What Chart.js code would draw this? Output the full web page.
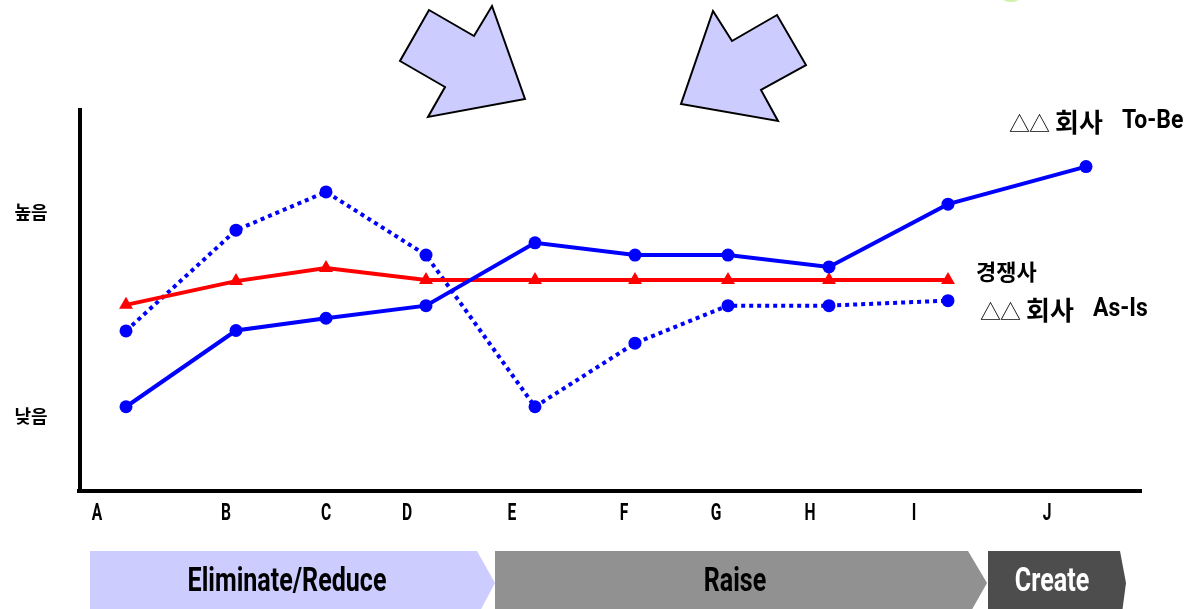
<!DOCTYPE html>
<html lang="ko">
<head>
<meta charset="UTF-8">
<title>ERRC</title>
<script src="https://cdn.jsdelivr.net/npm/chart.js"></script>
<style>
  html, body { margin: 0; padding: 0; background: #fff; }
  #wrap { width: 1187px; height: 609px; }
</style>
</head>
<body>
<div id="wrap"><canvas id="errcChart" width="1187" height="609"></canvas></div>
<script>
// categories and where their labels sit on the x scale
const categories = ['A', 'B', 'C', 'D', 'E', 'F', 'G', 'H', 'I', 'J'];
const labelPos = [0.17, 1.46, 2.46, 3.27, 4.32, 5.44, 6.36, 7.30, 8.34, 9.67];
// x position of each point on the same scale
const pointPos = [0.46, 1.56, 2.46, 3.46, 4.55, 5.55, 6.48, 7.49, 8.68, 10.06];
// series values (0 - 10)
const toBe = [2.20, 4.19, 4.51, 4.84, 6.48, 6.16, 6.16, 5.85, 7.49, 8.47];
const asIs = [4.18, 6.81, 7.81, 6.16, 2.20, 3.86, 4.84, 4.84, 4.97];
const rival = [4.86, 5.48, 5.82, 5.51, 5.51, 5.51, 5.51, 5.51, 5.51];
// y tick labels
const yTickLabels = ['높음', '낮음'];
const yTickValues = [7.28, 1.96];

function toPoints(vals) {
  return vals.map((v, i) => ({ x: pointPos[i], y: v }));
}

function narrowText(ctx, text, x, y, size, sx, color, align) {
  ctx.save();
  ctx.font = 'bold ' + size + 'px Roboto, "Liberation Sans", sans-serif';
  ctx.fillStyle = color;
  ctx.textBaseline = 'middle';
  ctx.textAlign = align || 'center';
  ctx.translate(x, y);
  ctx.scale(sx, 1);
  ctx.fillText(text, 0, 0);
  ctx.restore();
}

function poly(ctx, pts, fill, stroke) {
  ctx.beginPath();
  ctx.moveTo(pts[0][0], pts[0][1]);
  for (let i = 1; i < pts.length; i++) ctx.lineTo(pts[i][0], pts[i][1]);
  ctx.closePath();
  ctx.fillStyle = fill;
  ctx.fill();
  if (stroke) {
    ctx.lineWidth = 2;
    ctx.strokeStyle = stroke;
    ctx.lineJoin = 'miter';
    ctx.stroke();
  }
}

function companyLabel(ctx, x, y, tail, tailX) {
  ctx.save();
  ctx.textBaseline = 'middle';
  ctx.textAlign = 'left';
  ctx.fillStyle = '#000';
  ctx.font = '21px "Noto Sans CJK KR"';
  ctx.fillText('△', x, y + 1);
  ctx.fillText('△', x + 20, y + 1);
  ctx.font = 'bold 26px "Noto Sans CJK KR"';
  ctx.fillText('회사', x + 46, y);
  ctx.restore();
  narrowText(ctx, tail, tailX, y, 25, 0.92, '#000', 'left');
}

const decorations = {
  id: 'decorations',
  beforeDraw(chart) {
    const ctx = chart.ctx;
    ctx.save();
    // green blob at the top edge
    ctx.beginPath();
    ctx.ellipse(1011, -8, 13, 10, 0, 0, Math.PI * 2);
    ctx.fillStyle = '#ccf2a6';
    ctx.fill();
    // arrows
    poly(ctx, [[429, 10], [474, 36], [492, 6], [525, 99], [428, 117], [445, 87], [400, 61]], '#ccccff', '#000');
    poly(ctx, [[713, 11], [732, 41], [777, 15], [806, 65], [761, 90], [778, 121], [681, 104]], '#ccccff', '#000');
    // bottom bands
    poly(ctx, [[90, 551], [477, 551], [495, 583], [479, 613], [90, 613]], '#ccccff');
    poly(ctx, [[495, 551], [968, 551], [987, 583], [970, 613], [495, 613]], '#919191');
    poly(ctx, [[988, 551], [1120, 551], [1126, 583], [1122, 613], [988, 613]], '#4d4d4d');
    ctx.restore();
    narrowText(ctx, 'Eliminate/Reduce', 287, 583, 33, 0.76, '#000');
    narrowText(ctx, 'Raise', 735, 583, 33, 0.76, '#000');
    narrowText(ctx, 'Create', 1052, 583, 33, 0.76, '#fff');
  },
  beforeDatasetsDraw(chart) {
    const ctx = chart.ctx;
    const a = chart.chartArea;
    const xs = chart.scales.x, ys = chart.scales.y;
    ctx.save();
    ctx.strokeStyle = '#000';
    ctx.lineWidth = 4;
    ctx.beginPath();
    ctx.moveTo(a.left, a.top);
    ctx.lineTo(a.left, a.bottom + 2);
    ctx.moveTo(a.left - 3, a.bottom);
    ctx.lineTo(a.right, a.bottom);
    ctx.stroke();
    ctx.restore();
    categories.forEach((c, i) => {
      narrowText(ctx, c, xs.getPixelForValue(labelPos[i]), a.bottom + 23, 23, 0.68, '#000');
    });
    ctx.save();
    ctx.font = 'bold 18px "Noto Sans CJK KR"';
    ctx.fillStyle = '#000';
    ctx.textAlign = 'center';
    ctx.textBaseline = 'middle';
    yTickLabels.forEach((t, i) => {
      ctx.fillText(t, 31, ys.getPixelForValue(yTickValues[i]));
    });
    ctx.restore();
  },
  afterDraw(chart) {
    const ctx = chart.ctx;
    companyLabel(ctx, 1009, 122, 'To-Be', 1122);
    ctx.save();
    ctx.font = 'bold 22px "Noto Sans CJK KR"';
    ctx.fillStyle = '#000';
    ctx.textBaseline = 'middle';
    ctx.fillText('경쟁사', 976, 272);
    ctx.restore();
    companyLabel(ctx, 980, 310, 'As-Is', 1093);
  }
};

const ctx = document.getElementById('errcChart').getContext('2d');
const errcChart = new Chart(ctx, {
  type: 'line',
  data: {
    datasets: [
      {
        label: '△△회사 To-Be',
        data: toPoints(toBe),
        borderColor: '#0000ff',
        backgroundColor: '#0000ff',
        borderWidth: 4,
        pointRadius: 6.5,
        pointBorderWidth: 0,
        order: 0
      },
      {
        label: '경쟁사',
        data: toPoints(rival),
        borderColor: '#ff0000',
        backgroundColor: '#ff0000',
        borderWidth: 4,
        pointStyle: 'triangle',
        pointRadius: 8,
        pointBorderWidth: 0,
        order: 1
      },
      {
        label: '△△회사 As-Is',
        data: toPoints(asIs),
        borderColor: '#0000ff',
        backgroundColor: '#0000ff',
        borderWidth: 4,
        borderDash: [4, 4],
        borderCapStyle: 'butt',
        pointRadius: 6.5,
        pointBorderWidth: 0,
        order: 2
      }
    ]
  },
  options: {
    responsive: false,
    animation: false,
    layout: { padding: { left: 80, right: 45, top: 108, bottom: 118 } },
    plugins: {
      legend: { display: false },
      tooltip: { enabled: false }
    },
    scales: {
      x: { type: 'linear', min: 0, max: 10.62, display: false },
      y: { min: 0, max: 10, display: false }
    }
  },
  plugins: [decorations]
});
</script>
</body>
</html>
